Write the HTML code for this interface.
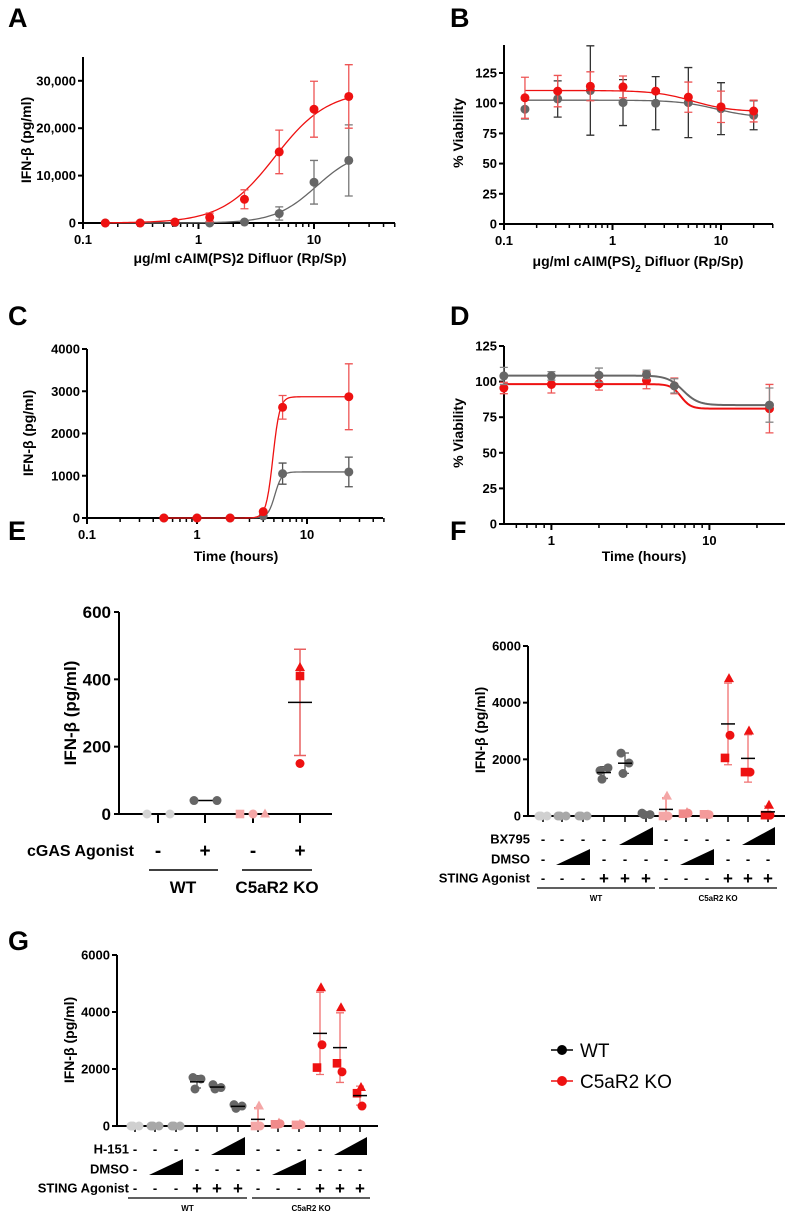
<!DOCTYPE html>
<html><head><meta charset="utf-8">
<style>
html,body{margin:0;padding:0;background:#fff;}
svg{display:block;font-family:"Liberation Sans",Arial,sans-serif;}
.t{font-weight:bold;font-size:13px;}
.pl{font-weight:bold;font-size:27px;}
.al{font-weight:bold;font-size:14px;}
</style></head>
<body>
<svg id="fig" width="794" height="1219" viewBox="0 0 794 1219"></svg>
<script>
// ---------- DATA ----------
const A_x=[0.156,0.3125,0.625,1.25,2.5,5,10,20];
const A_red=[0,0,200,1200,5000,15000,24000,26700];
const A_redErr=[0,0,0,900,2000,4600,5900,6700];
const A_gray=[0,0,100,0,200,2000,8600,13200];
const A_grayErr=[0,0,0,0,0,1400,4600,7500];
const A_yTicks=[0,10000,20000,30000];
const A_yLabels=["0","10,000","20,000","30,000"];
// fit params: bottom, top, EC50, hill
const A_redFit=[0,28000,4.6,1.9];
const A_grayFit=[0,15500,10.5,2.4];

const B_x=[0.156,0.3125,0.625,1.25,2.5,5,10,20];
const B_red=[104.5,110,114,113.5,110,105,97,93.5];
const B_redErr=[17,13,12,9,0,12.5,13,9];
const B_gray=[95,103.5,110.5,100.5,100,100.5,95.5,90];
const B_grayErr=[8,15,37,19,22,29,21.5,12];
const B_redFit=[93,110.5,5.5,2.5];
const B_grayFit=[88,102.5,9,2.5];
const V_yTicks=[0,25,50,75,100,125];

const C_x=[0.5,1,2,4,6,24];
const C_red=[0,0,0,150,2620,2870];
const C_redErr=[0,0,0,0,280,780];
const C_gray=[0,0,0,50,1050,1090];
const C_grayErr=[0,0,0,0,250,350];
const C_redFit=[0,2870,4.9,14];
const C_grayFit=[0,1090,5.1,14];
const C_yTicks=[0,1000,2000,3000,4000];

const D_x=[0.5,1,2,4,6,24];
const D_gray=[104,104,104.5,105,97,83.5];
const D_grayErr=[6,3,5,3,5,12];
const D_red=[95.5,98,98.5,101,97,81];
const D_redErr=[4,6,4.5,6,5.5,17];
const D_grayFit=[83.5,104.2,6.8,9];
const D_redFit=[81,98.2,6.6,14];

const E_yTicks=[0,200,400,600];
const E_wtNeg=[0,0];
const E_wtPos=[40,40];
const E_koNeg=[0,0,0];
const E_koPos=[150,410,435];

const F_yTicks=[0,2000,4000,6000];
const F_vals=[[0,0,0],[0,0,0],[0,0,0],[1600,1700,1300],[2220,1870,1500],[100,50,50],
              [0,0,700],[100,80,120],[50,60,40],[2850,2050,4850],[1550,1550,3000],[30,30,380]];
const G_vals=[[0,0,0],[0,0,0],[0,0,0],[1700,1650,1300],[1450,1350,1300],[750,700,620],
              [0,0,700],[80,60,100],[50,40,60],[2850,2050,4850],[1900,2200,4150],[700,1150,1350]];
const F_plusMinus={ row1:["-","-","-","-","R","R","-","-","-","-","R","R"],
                    row2:["-","R","R","-","-","-","-","R","R","-","-","-"],
                    row3:["-","-","-","+","+","+","-","-","-","+","+","+"] };

// ---------- HELPERS ----------
const svg=document.getElementById('fig');
const NS='http://www.w3.org/2000/svg';
function mk(tag,attrs,parent,text){const e=document.createElementNS(NS,tag);for(const k in attrs)e.setAttribute(k,attrs[k]);if(text!==undefined)e.textContent=text;(parent||svg).appendChild(e);return e;}
function txt(x,y,s,cls,anchor,name,extra){const e=mk('text',Object.assign({x:x,y:y,class:cls,'text-anchor':anchor||'start'},extra||{}),null,s);


return e;}
function fs(e,s){e.style.fontSize=s+'px';return e;}
const RED='#ee1111', GRAY='#666666';

function logAxis(cfg){
  const fx=v=>cfg.x0+cfg.dec*Math.log10(v/cfg.minV);
  const fy=v=>cfg.y0-(v/cfg.yMax)*(cfg.y0-cfg.yTop);
  return {fx,fy};
}
function drawAxes(c,sc,yTicks,yLabels,xMajor,pname){
  const g=mk('g',{});
  
  
  mk('line',{x1:c.x0,y1:c.y0,x2:c.x0,y2:c.axTop,stroke:'#000','stroke-width':2},g);
  mk('line',{x1:c.x0-5,y1:c.y0,x2:c.x1,y2:c.y0,stroke:'#000','stroke-width':2},g);
  yTicks.forEach((v,i)=>{const y=sc.fy(v);mk('line',{x1:c.x0-5,y1:y,x2:c.x0,y2:y,stroke:'#000','stroke-width':2},g);
    txt(c.x0-7,y+4.5,yLabels[i],'t','end',pname+'-y-tick-label');});
  let d=c.minV;
  while(sc.fx(d)<=c.x1+1){
    for(let k=1;k<10;k++){const v=d*k;const x=sc.fx(v);if(x<c.x0-0.5||x>c.x1+1)continue;
      mk('line',{x1:x,y1:c.y0,x2:x,y2:c.y0+(k===1?6:4),stroke:'#000','stroke-width':k===1?2:1.5},g);}
    d*=10;
  }
  xMajor.forEach(v=>{txt(sc.fx(v),c.y0+21,String(v),'t','middle',pname+'-x-tick-label');});
}
function fitPath(sc,fit,xmin,xmax){
  const [b,t,ec,h]=fit;let d='';
  const n=120;
  for(let i=0;i<=n;i++){const lx=Math.log10(xmin)+(Math.log10(xmax)-Math.log10(xmin))*i/n;const x=Math.pow(10,lx);
    const y=b+(t-b)/(1+Math.pow(x/ec,h));
    // increasing curves have b<t ordering reversed below
    d+=(i?'L':'M')+sc.fx(x).toFixed(2)+','+sc.fy(y).toFixed(2);}
  return d;
}
function series(sc,xs,ys,errs,color,errColor,pname,sname,fit,sw){
  const px=xs.map(sc.fx),py=ys.map(sc.fy);
  const p=mk('path',{d:fitPath(sc,fit,xs[0],xs[xs.length-1]),fill:'none',stroke:color,'stroke-width':sw||1.3});
  
  
  xs.forEach((x,i)=>{
    const X=px[i],Y=py[i];
    if(errs[i]>0){const t=sc.fy(ys[i]+errs[i]),b=sc.fy(Math.max(0,ys[i]-errs[i]));
      const e=mk('path',{d:`M${X},${t}V${b}M${X-4},${t}H${X+4}M${X-4},${b}H${X+4}`,stroke:errColor,'stroke-width':1.3,fill:'none'});
      
      }
    const c=mk('circle',{cx:X,cy:Y,r:4.5,fill:color});
    
    
  });
}
// increasing fits: convert [bottom,top,ec,h] with formula bottom+(top-bottom)/(1+(ec/x)^h)
function inc(fit){return [fit[1],fit[0],fit[2],fit[3]];}
function panelLabel(x,y,s){txt(x,y,s,'pl','start','panel-label-'+s.toLowerCase());}
function yTitle(x,y,s,pname){return txt(x,y,s,'al','middle',pname+'-y-axis-title',{transform:`rotate(-90 ${x} ${y})`});}

// ---------- PANEL A ----------
panelLabel(8,27,'A');
{const c={x0:83,x1:395,y0:223,axTop:57,yTop:223-3*47.4,yMax:30000,dec:115.5,minV:0.1};
 const sc=logAxis(c);drawAxes(c,sc,A_yTicks,A_yLabels,[0.1,1,10],'panel-a');
 series(sc,A_x,A_gray,A_grayErr,GRAY,'#777','panel-a','wt',inc(A_grayFit));
 series(sc,A_x,A_red,A_redErr,RED,'#e55','panel-a','c5ar2-ko',inc(A_redFit));
 yTitle(31,140,'IFN-β (pg/ml)','panel-a');
 txt(240,263,'μg/ml cAIM(PS)2 Difluor (Rp/Sp)','al','middle','panel-a-x-axis-title');}

// ---------- PANEL B ----------
panelLabel(450,27,'B');
{const c={x0:504,x1:773,y0:224,axTop:45,yTop:224-5*30.2,yMax:125,dec:108.5,minV:0.1};
 const sc=logAxis(c);drawAxes(c,sc,V_yTicks,V_yTicks.map(String),[0.1,1,10],'panel-b');
 series(sc,B_x,B_gray,B_grayErr,GRAY,'#333','panel-b','wt',B_grayFit);
 series(sc,B_x,B_red,B_redErr,RED,'#e55','panel-b','c5ar2-ko',B_redFit);
 yTitle(463,133,'% Viability','panel-b');
 const t=txt(638,266,'μg/ml cAIM(PS)','al','middle','panel-b-x-axis-title');
 mk('tspan',{'baseline-shift':'sub',style:'font-size:10px'},t,'2');mk('tspan',{},t,' Difluor (Rp/Sp)');}

// ---------- PANEL C ----------
panelLabel(8,325,'C');
{const c={x0:87,x1:383,y0:518,axTop:349,yTop:349,yMax:4000,dec:110,minV:0.1};
 const sc=logAxis(c);drawAxes(c,sc,C_yTicks,C_yTicks.map(String),[0.1,1,10],'panel-c');
 series(sc,C_x,C_gray,C_grayErr,GRAY,'#555','panel-c','wt',inc(C_grayFit));
 series(sc,C_x,C_red,C_redErr,RED,'#e55','panel-c','c5ar2-ko',inc(C_redFit));
 yTitle(33,433,'IFN-β (pg/ml)','panel-c');
 txt(236,561,'Time (hours)','al','middle','panel-c-x-axis-title');}

// ---------- PANEL D ----------
panelLabel(450,325,'D');
{const c={x0:504,x1:785,y0:524,axTop:346,yTop:346,yMax:125,dec:158,minV:0.5012};
 const sc=logAxis(c);
 const g=mk('g',{});
 
 
 mk('line',{x1:c.x0,y1:c.y0,x2:c.x0,y2:c.axTop,stroke:'#000','stroke-width':2},g);
 mk('line',{x1:c.x0-5,y1:c.y0,x2:c.x1,y2:c.y0,stroke:'#000','stroke-width':2},g);
 V_yTicks.forEach(v=>{const y=sc.fy(v);mk('line',{x1:c.x0-5,y1:y,x2:c.x0,y2:y,stroke:'#000','stroke-width':2},g);txt(c.x0-7,y+4.5,String(v),'t','end','panel-d-y-tick-label');});
 [0.6,0.7,0.8,0.9,1,2,3,4,5,6,7,8,9,10,20].forEach(v=>{const x=sc.fx(v);const maj=(v===1||v===10);mk('line',{x1:x,y1:c.y0,x2:x,y2:c.y0+(maj?6:4),stroke:'#000','stroke-width':maj?2:1.5},g);});
 [1,10].forEach(v=>txt(sc.fx(v),c.y0+21,String(v),'t','middle','panel-d-x-tick-label'));
 series(sc,D_x,D_red,D_redErr,RED,'#e55','panel-d','c5ar2-ko',D_redFit,2);
 series(sc,D_x,D_gray,D_grayErr,GRAY,'#888','panel-d','wt',D_grayFit,2);
 yTitle(463,433,'% Viability','panel-d');
 txt(644,561,'Time (hours)','al','middle','panel-d-x-axis-title');}

// ---------- shapes ----------
function shape(kind,x,y,color,name){let e;
  if(kind==='c')e=mk('circle',{cx:x,cy:y,r:4.5,fill:color});
  else if(kind==='s')e=mk('rect',{x:x-4.3,y:y-4.3,width:8.6,height:8.6,fill:color});
  else e=mk('path',{d:`M${x},${y-5.5}L${x+5},${y+3.5}L${x-5},${y+3.5}Z`,fill:color});
  
  
  return e;}

// ---------- PANEL E ----------
panelLabel(8,540,'E');
{const x0=119,x1=332,y0=814,yTop=612,yMax=600;
 const fy=v=>y0-(v/yMax)*(y0-yTop);
 const g=mk('g',{});
 
 
 mk('line',{x1:x0,y1:y0,x2:x0,y2:yTop,stroke:'#000','stroke-width':2},g);
 mk('line',{x1:x0-5,y1:y0,x2:x1,y2:y0,stroke:'#000','stroke-width':2},g);
 E_yTicks.forEach(v=>{const y=fy(v);mk('line',{x1:x0-5,y1:y,x2:x0,y2:y,stroke:'#000','stroke-width':2},g);fs(txt(x0-8,y+6,String(v),'al','end','panel-e-y-tick-label'),17);});
 const cx=[158,205,253,300];
 cx.forEach(x=>mk('line',{x1:x,y1:y0,x2:x,y2:y0+9,stroke:'#000','stroke-width':2},g));
 E_wtNeg.forEach((v,i)=>shape('c',[147,170][i],fy(v),'#d4d4d4','panel-e-wt-neg-point'));
 mk('line',{x1:194,y1:fy(E_wtPos[0]),x2:217,y2:fy(E_wtPos[1]),stroke:'#000','stroke-width':1.5});
 E_wtPos.forEach((v,i)=>shape('c',[194,217][i],fy(v),'#666','panel-e-wt-pos-point'));
 ['s','c','t'].forEach((k,i)=>shape(k,[240,253,265][i],fy(E_koNeg[i]),'#f4a6a6','panel-e-ko-neg-point'));
 const m=E_koPos.reduce((a,b)=>a+b,0)/3;const sd=Math.sqrt(E_koPos.reduce((a,b)=>a+(b-m)**2,0)/2);
 const eb=mk('path',{d:`M300,${fy(m+sd)}V${fy(m-sd)}M294,${fy(m+sd)}H306M294,${fy(m-sd)}H306`,stroke:'#e86060','stroke-width':1.5,fill:'none'});
 
 
 ['c','s','t'].forEach((k,i)=>shape(k,300,fy(E_koPos[i]),RED,'panel-e-ko-pos-point'));
 const ml=mk('line',{x1:288,y1:fy(m),x2:312,y2:fy(m),stroke:'#000','stroke-width':1.5});
 
 
 fs(yTitle(76,713,'IFN-β (pg/ml)','panel-e'),17);
 fs(txt(134,856,'cGAS Agonist','al','end','panel-e-cgas-agonist-label'),16);
 ['-','+','-','+'].forEach((s,i)=>{fs(txt(cx[i],857,s,'al','middle','panel-e-sign'),19);});
 mk('line',{x1:149,y1:870,x2:218,y2:870,stroke:'#000','stroke-width':1.5});
 mk('line',{x1:242,y1:870,x2:312,y2:870,stroke:'#000','stroke-width':1.5});
 fs(txt(183,893,'WT','al','middle','panel-e-wt-label'),17);
 fs(txt(277,893,'C5aR2 KO','al','middle','panel-e-ko-label'),17);}

// ---------- dot panels F & G ----------
const CAT_COLORS=['#d0d0d0','#a8a8a8','#a8a8a8','#666','#666','#666','#f4a6a6','#f08a8a','#f49a9a',RED,RED,RED];
function dotPanel(p){
  const fy=v=>p.y0-(v/6000)*(p.y0-p.yTop);
  const g=mk('g',{});
  
  
  mk('line',{x1:p.x0,y1:p.y0,x2:p.x0,y2:p.yTop,stroke:'#000','stroke-width':2},g);
  mk('line',{x1:p.x0-5,y1:p.y0,x2:p.x1,y2:p.y0,stroke:'#000','stroke-width':2},g);
  F_yTicks.forEach(v=>{const y=fy(v);mk('line',{x1:p.x0-5,y1:y,x2:p.x0,y2:y,stroke:'#000','stroke-width':2},g);txt(p.x0-7,y+4.5,String(v),'t','end',p.name+'-y-tick-label');});
  p.cx.forEach(x=>mk('line',{x1:x,y1:p.y0,x2:x,y2:p.y0+6,stroke:'#000','stroke-width':1.5},g));
  p.vals.forEach((vs,ci)=>{
    const x=p.cx[ci];const col=CAT_COLORS[ci];const ko=ci>=6;
    const m=vs.reduce((a,b)=>a+b,0)/3;const sd=Math.sqrt(vs.reduce((a,b)=>a+(b-m)**2,0)/2);
    if(sd>30){const e=mk('path',{d:`M${x},${fy(m+sd)}V${fy(Math.max(0,m-sd))}M${x-4},${fy(m+sd)}H${x+4}M${x-4},${fy(Math.max(0,m-sd))}H${x+4}`,stroke:ko?'#f07070':'#555','stroke-width':1.3,fill:'none'});
      
      }
    const kinds=ko?['c','s','t']:['c','c','c'];
    const offs=ko?[2,-3,1]:[-4,4,-2];
    vs.forEach((v,i)=>shape(kinds[i],x+offs[i],fy(v),col,p.name+'-point'));
    if(sd>30){const ml=mk('line',{x1:x-7,y1:fy(m),x2:x+7,y2:fy(m),stroke:'#000','stroke-width':1.5});
      
      }
  });
  const rows=[p.rowNames[0],'DMSO','STING Agonist'];
  const rowKeys=['row1','row2','row3'];
  rows.forEach((r,ri)=>{
    txt(p.labEnd,p.rowY[ri]+4.5,r,'t','end',p.name+'-row-label');
    const signs=F_plusMinus[rowKeys[ri]];
    let ci=0;
    while(ci<12){
      if(signs[ci]==='R'){const xa=p.cx[ci]-6,xb=p.cx[ci+1]+7;const by=p.rowY[ri]+6,ty=p.rowY[ri]-(ri===0?12:10);
        const tr=mk('path',{d:`M${xa},${by}L${xb},${by}L${xb},${ty}Z`,fill:'#000'});
        
        
        ci+=2;continue;}
      const t=txt(p.cx[ci],p.rowY[ri]+(signs[ci]==='+'?6:4.5),signs[ci],'t','middle',p.name+'-sign');
      if(signs[ci]==='+')fs(t,17);
      ci++;
    }
  });
  mk('line',{x1:p.grp[0],y1:p.grpY,x2:p.grp[1],y2:p.grpY,stroke:'#000','stroke-width':1.2});
  mk('line',{x1:p.grp[2],y1:p.grpY,x2:p.grp[3],y2:p.grpY,stroke:'#000','stroke-width':1.2});
  fs(txt((p.grp[0]+p.grp[1])/2,p.grpY+13,'WT','t','middle',p.name+'-wt-group-label'),8);
  fs(txt((p.grp[2]+p.grp[3])/2,p.grpY+13,'C5aR2 KO','t','middle',p.name+'-ko-group-label'),8);
  fs(yTitle(p.yt[0],p.yt[1],'IFN-β (pg/ml)',p.name),14);
}
panelLabel(450,540,'F');
dotPanel({name:'panel-f',x0:528,x1:785,y0:816,yTop:646,vals:F_vals,
  cx:[543,562,583,604,625,646,666,686,707,728,748,768],rowNames:['BX795'],
  rowY:[839,859,878],labEnd:530,grp:[537,655,659,777],grpY:888,yt:[485,730]});
panelLabel(8,950,'G');
dotPanel({name:'panel-g',x0:117,x1:378,y0:1126,yTop:955,vals:G_vals,
  cx:[135,155,176,197,217,238,258,278,299,320,340,360],rowNames:['H-151'],
  rowY:[1149,1169,1188],labEnd:129,grp:[128,247,252,370],grpY:1198,yt:[74,1040]});

// ---------- LEGEND ----------
{const g=mk('g',{});
 
 
 mk('line',{x1:551,y1:1050,x2:573,y2:1050,stroke:'#000','stroke-width':1.5},g);
 mk('circle',{cx:562,cy:1050,r:5,fill:'#000'},g);
 fs(txt(580,1057,'WT','','start','legend-entry-wt'),19);
 mk('line',{x1:551,y1:1081,x2:573,y2:1081,stroke:RED,'stroke-width':1.5},g);
 mk('circle',{cx:562,cy:1081,r:5,fill:RED},g);
 fs(txt(580,1088,'C5aR2 KO','','start','legend-entry-c5ar2-ko'),19);}
</script>
</body></html>
